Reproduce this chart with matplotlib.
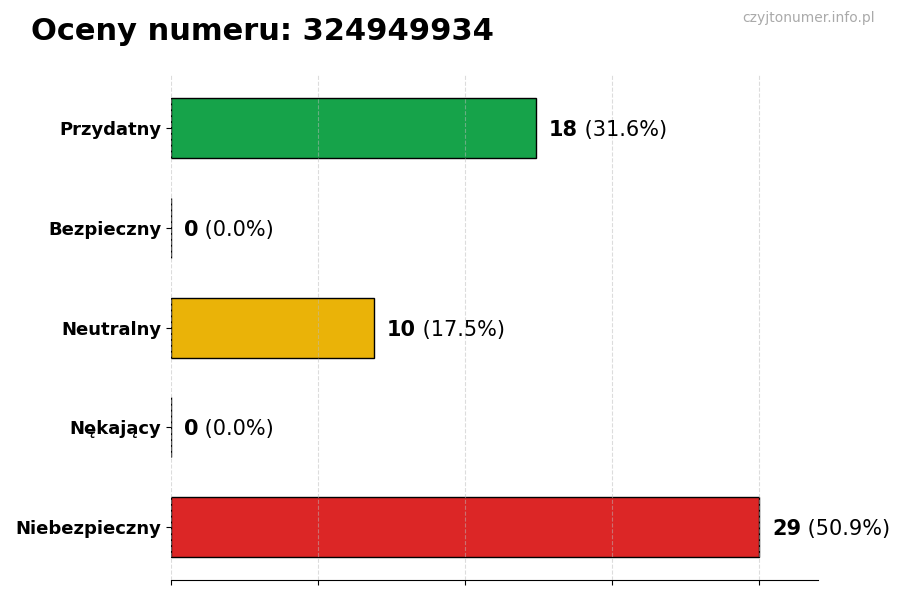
import matplotlib
matplotlib.use("Agg")
import matplotlib.pyplot as plt
import numpy as np

numer = "324949934"
kategorie = ["Przydatny", "Bezpieczny", "Neutralny", "Nękający", "Niebezpieczny"]
liczby = [18, 0, 10, 0, 29]
kolory = ["#16a34a", "#2563eb", "#eab308", "#f97316", "#dc2626"]

plt.rcParams['font.family'] = ['DejaVu Sans']

fig = plt.figure(figsize=(9, 6), dpi=100)
ax = fig.add_axes([0.19, 0.033, 0.719, 0.842])

suma = sum(liczby)
maks = max(liczby)
y = np.arange(len(kategorie))

ax.barh(y, liczby, height=0.6, color=kolory, edgecolor="black", linewidth=1)
ax.invert_yaxis()
ax.set_yticks(y)
ax.set_yticklabels(kategorie, fontsize=13, fontweight="bold")
ax.set_xlim(0, maks * 1.1)
ax.set_xticks(np.linspace(0, maks, 5))
ax.set_xticklabels([])
ax.grid(axis="x", linestyle="--", alpha=0.5, color="#bbbbbb")
ax.set_axisbelow(False)
for s in ["top", "right", "left"]:
    ax.spines[s].set_visible(False)

# etykiety: liczba pogrubiona + procent
fig.canvas.draw()
renderer = fig.canvas.get_renderer()
for i, v in enumerate(liczby):
    proc = v / suma * 100 if suma else 0
    t = ax.text(v + maks * 0.022, i, f"{v}", fontsize=15, fontweight="bold",
                va="center_baseline", ha="left")
    bb = t.get_window_extent(renderer=renderer)
    x1 = ax.transData.inverted().transform((bb.x1, bb.y0))[0]
    ax.text(x1, i, f" ({proc:.1f}%)", fontsize=15, va="center_baseline", ha="left")

fig.text(0.034, 0.933, f"Oceny numeru: {numer}", fontsize=22, fontweight="bold",
         ha="left", va="baseline")
fig.text(0.972, 0.963, "czyjtonumer.info.pl", fontsize=10, color="#aaaaaa",
         ha="right", va="baseline")

fig.savefig("out.png", dpi=100)
